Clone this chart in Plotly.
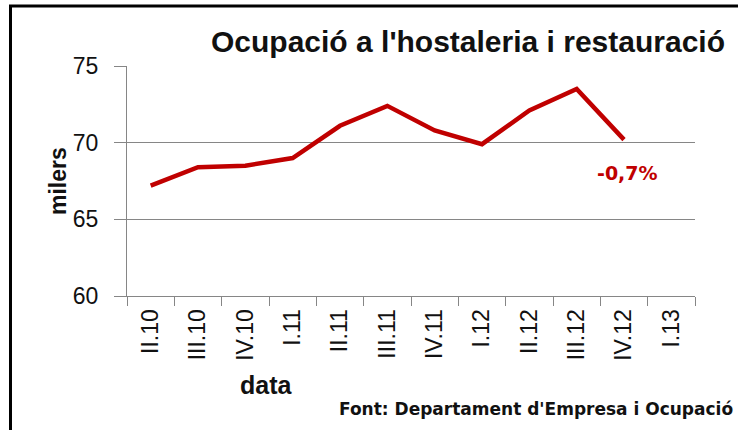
import plotly.graph_objects as go

# ---- data ----
quarters = ["II.10", "III.10", "IV.10", "I.11", "II.11", "III.11", "IV.11",
            "I.12", "II.12", "III.12", "IV.12", "I.13"]
employment_thousands = [67.2, 68.4, 68.5, 69.0, 71.1, 72.4, 70.8,
                        69.9, 72.1, 73.5, 70.2, None]
y_ticks = [60, 65, 70, 75]
title_text = "Ocupació a l'hostaleria i restauració"
y_title = "milers"
x_title = "data"
source_text = "Font: Departament d'Empresa i Ocupació"
change_label = "-0,7%"
change_at = "IV.12"

# ---- layout geometry (pixels) ----
W, H = 738, 430
L, R, T, B = 127, 43, 66, 134
PW, PH = W - L - R, H - T - B


def px(x):
    return (x - L) / PW


def py(y):
    return (H - B - y) / PH


RED = "#C00000"
GRID = "#868686"
FONT = "Liberation Sans, Arial, sans-serif"

fig = go.Figure()
fig.add_trace(go.Scatter(
    x=quarters, y=employment_thousands, mode="lines",
    line=dict(color=RED, width=4.5), connectgaps=False,
    hoverinfo="x+y", showlegend=False))

fig.update_layout(
    width=W, height=H,
    margin=dict(l=L, r=R, t=T, b=B),
    paper_bgcolor="white", plot_bgcolor="white",
    title=dict(text=title_text, x=468 / W, xanchor="center",
               y=1 - 41 / H, yanchor="middle",
               font=dict(family=FONT, size=30, color="#111", weight="bold")),
    xaxis=dict(type="category", categoryorder="array", categoryarray=quarters,
               range=[-0.5, len(quarters) - 0.5],
               tickson="boundaries", ticks="outside", ticklen=9,
               tickcolor=GRID, tickwidth=1,
               showline=True, linecolor=GRID, linewidth=1,
               showgrid=False, tickangle=-90, ticklabelstandoff=3,
               tickfont=dict(family=FONT, size=23, color="#111")),
    yaxis=dict(range=[60, 75], tickvals=y_ticks,
               ticks="outside", ticklen=12, tickcolor=GRID, tickwidth=1,
               showline=True, linecolor=GRID, linewidth=1,
               showgrid=True, gridcolor=GRID, gridwidth=1, zeroline=False,
               ticklabelstandoff=11,
               tickfont=dict(family=FONT, size=23, color="#111")),
)

fig.add_annotation(text=y_title, x=px(58), y=py(181), xref="paper", yref="paper",
                   textangle=-90, showarrow=False, xanchor="center", yanchor="middle",
                   font=dict(family=FONT, size=23, color="#111", weight="bold"))
fig.add_annotation(text=x_title, x=px(266), y=py(385), xref="paper", yref="paper",
                   showarrow=False, xanchor="center", yanchor="middle",
                   font=dict(family=FONT, size=25, color="#111", weight="bold"))
fig.add_annotation(text=source_text, x=px(735), y=py(409), xref="paper", yref="paper",
                   showarrow=False, xanchor="right", yanchor="middle",
                   font=dict(family="DejaVu Sans, sans-serif", size=17, color="#111",
                             weight="bold"))
fig.add_annotation(text=change_label, x=change_at,
                   y=employment_thousands[quarters.index(change_at)],
                   xref="x", yref="y", yshift=-33, xshift=3, showarrow=False,
                   xanchor="center", yanchor="middle",
                   font=dict(family="DejaVu Sans, sans-serif", size=19, color=RED,
                             weight="bold"))

# outer frame (top and left edges visible)
fig.add_shape(type="line", xref="paper", yref="paper",
              x0=px(9), x1=px(760), y0=py(6), y1=py(6),
              line=dict(color="black", width=3))
fig.add_shape(type="line", xref="paper", yref="paper",
              x0=px(10.5), x1=px(10.5), y0=py(5), y1=py(460),
              line=dict(color="black", width=3))

fig.write_html("out.html", config={"displayModeBar": False},
               post_script="document.body.style.margin='0';document.body.style.overflow='hidden';")
